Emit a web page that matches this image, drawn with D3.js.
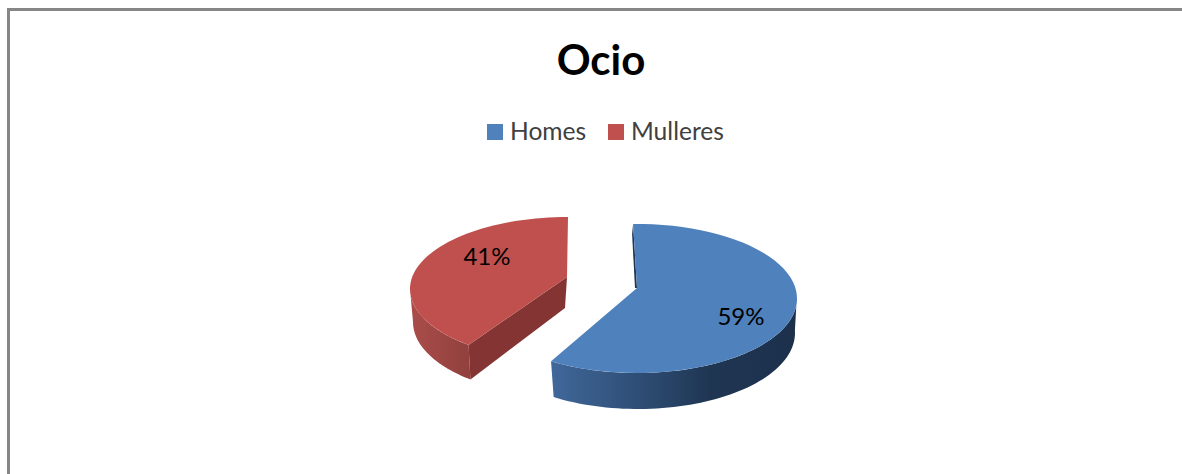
<!DOCTYPE html>
<html>
<head>
<meta charset="utf-8">
<script src="https://cdnjs.cloudflare.com/ajax/libs/d3/7.8.5/d3.min.js"></script>
<style>html,body{margin:0;padding:0;background:#fff;overflow:hidden}svg{display:block}</style>
</head>
<body>
<svg id="c" width="1182" height="474"></svg>
<script>
const title = "Ocio";
const categories = ["Homes", "Mulleres"];
const values = [59, 41];
const colors = ["#4f81bd", "#c0504d"];

const W = 1182, H = 474;
const svg = d3.select("#c");
const deg = Math.PI / 180;

// Layout of each exploded 3D slice
const slices = [
  { top:{cx:637,cy:298.5,rx:160,ry:74.5}, bot:{cx:638,cy:333,rx:157,ry:76}, apex:[637,288], apexB:[637,288],
    screen:[-1.4,212.5], wall:[88,212.5], labelXY:[741,325] },
  { top:{cx:568,cy:289,rx:158,ry:72}, bot:{cx:568,cy:322,rx:155,ry:74}, apex:[567,277], apexB:[565,308],
    screen:[219,360], wall:[219,270], labelXY:[487,265] }
];

const defs = svg.append("defs");
function grad(id, x1, x2, stops){
  const g = defs.append("linearGradient").attr("id",id).attr("gradientUnits","userSpaceOnUse")
    .attr("x1",x1).attr("x2",x2).attr("y1",0).attr("y2",0);
  stops.forEach(s=>g.append("stop").attr("offset",s[0]).attr("stop-color",s[1]));
}
grad("wall0",551,796,[[0,"#40689a"],[0.35,"#2f4e76"],[0.65,"#1f3653"],[1,"#1c304c"]]);
grad("wall1",410,472,[[0,"#aa4d4a"],[1,"#90403d"]]);

// frame
svg.append("path").attr("d",`M8.5,${H}V9.5H${W}`).attr("fill","none").attr("stroke","#868686").attr("stroke-width",3);

const line = d3.line();
const pt = (e,a)=>[e.cx+e.rx*Math.sin(a*deg), e.cy-e.ry*Math.cos(a*deg)];
const arcPts = (e,a0,a1)=>d3.range(0,61).map(i=>pt(e,a0+(a1-a0)*i/60));

const arcs = d3.pie().sort(null)(values);

arcs.forEach((d,i)=>{
  const s = slices[i];
  const toScreen = d3.scaleLinear().domain([d.startAngle,d.endAngle]).range(s.screen);
  const a0 = toScreen(d.startAngle), a1 = toScreen(d.endAngle);
  const g = svg.append("g");
  // outer wall
  const w0=Math.max(a0,s.wall[0]), w1=Math.min(a1,s.wall[1]);
  g.append("path").attr("d",line(arcPts(s.top,w0,w1).concat(arcPts(s.bot,w1,w0)))+"Z").attr("fill",`url(#wall${i})`);
  if(i===0){
    // sliver of the cut face seen at the start edge
    const p=pt(s.top,a0);
    g.append("path").attr("d",line([p,s.apex,[s.apex[0]-2,s.apex[1]],[p[0]-1,p[1]+10]])+"Z").attr("fill","#1f3552");
  } else {
    // cut face seen in front
    const p=pt(s.top,a0), q=pt(s.bot,a0);
    g.append("path").attr("d",line([p,s.apex,s.apexB,q])+"Z").attr("fill","#843432");
  }
  // top face
  g.append("path").attr("d",line([s.apex].concat(arcPts(s.top,a0,a1)))+"Z").attr("fill",colors[i]);
  svg.append("text").attr("x",s.labelXY[0]).attr("y",s.labelXY[1]).attr("text-anchor","middle")
    .attr("font-family","Lato, 'Open Sans', sans-serif").attr("font-size",24).attr("fill","#000")
    .text(values[i]+"%");
});

// title
svg.append("text").attr("x",601).attr("y",75).attr("text-anchor","middle")
  .attr("font-family","Lato, 'Open Sans', sans-serif").attr("font-weight",700).attr("font-size",42).attr("fill","#000").text(title);

// legend
const legendX = [487,608], textX=[510,631];
categories.forEach((c,i)=>{
  svg.append("rect").attr("x",legendX[i]).attr("y",124).attr("width",16).attr("height",16).attr("fill",colors[i]);
  svg.append("text").attr("x",textX[i]).attr("y",139.5).attr("font-family","Lato, 'Open Sans', sans-serif")
    .attr("font-size",24.6).attr("fill","#404040").text(c);
});
</script>
</body>
</html>
